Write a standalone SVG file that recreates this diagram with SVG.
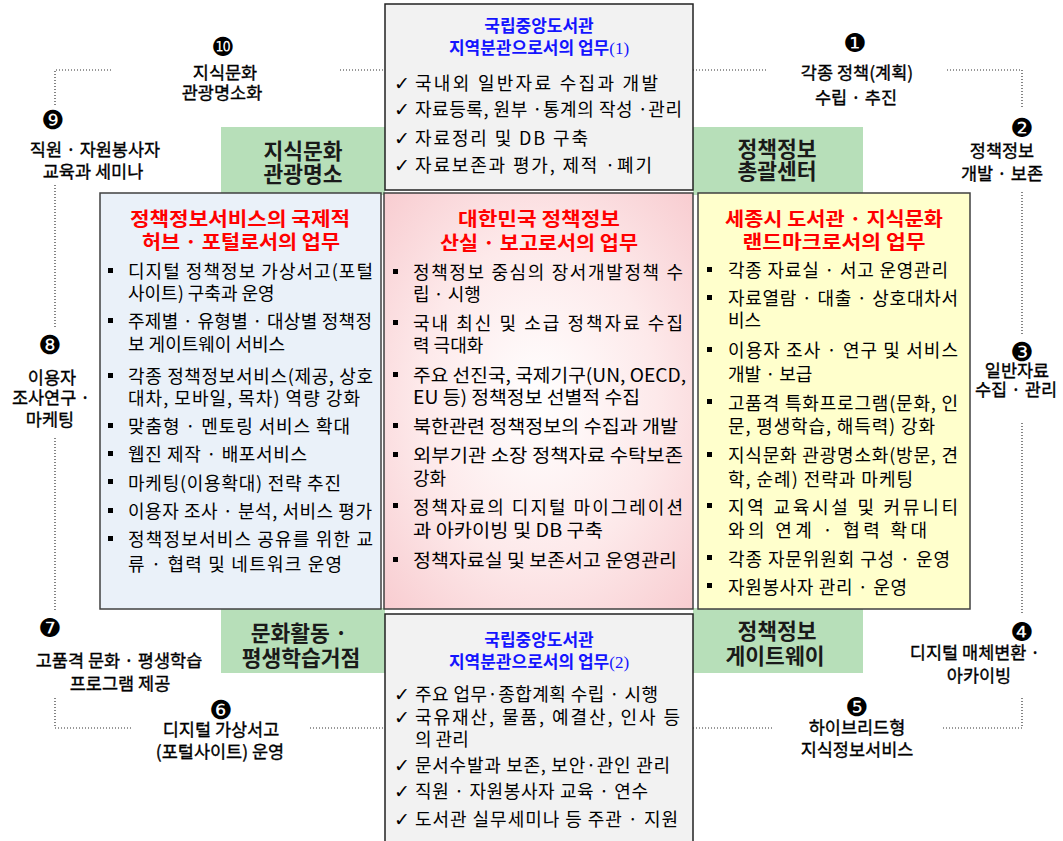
<svg xmlns="http://www.w3.org/2000/svg" width="1063" height="841" viewBox="0 0 1063 841">
<defs>
<radialGradient id="pinkGrad" cx="50%" cy="50%" r="70%">
<stop offset="0%" stop-color="#ffffff"/>
<stop offset="55%" stop-color="#fde9ea"/>
<stop offset="100%" stop-color="#f8cdd1"/>
</radialGradient>
<style>
text{font-family:'Noto Sans CJK KR','Noto Sans CJK SC',sans-serif;fill:#000}
.body{font-size:18px}
.lab{font-size:17.5px;text-anchor:middle;stroke:#000;stroke-width:0.35}
.num{font-family:'DejaVu Sans',sans-serif;font-size:26px;text-anchor:middle;dominant-baseline:central}
.chk{font-family:'DejaVu Sans',sans-serif;font-size:19px}
.red{font-size:19px;font-weight:bold;fill:#ff0000;text-anchor:middle}
.blue{font-size:17px;font-weight:bold;fill:#1414ff;text-anchor:middle}
.ser{font-family:'Liberation Serif',serif;font-weight:normal}
.grn{font-size:21.5px;font-weight:bold;fill:#1a1a1a;text-anchor:middle}
.gbox{fill:#b7dfb9}
.panel{stroke:#404040;stroke-width:1.5}
.gray{fill:#f2f2f2;stroke:#222;stroke-width:1.5}
.bul{fill:#000}
.dot{fill:none;stroke:#333;stroke-width:1.2;stroke-dasharray:1 2}
</style>
</defs>
<rect width="1063" height="841" fill="#ffffff"/>

<g id="connectors">
<path class="dot" d="M55,105 V70 H112 M340,70 H385 M693,70 H767 M947,70 H1022 V107"/>
<path class="dot" d="M55,185 V328 M55,438 V612 M1022,192 V335 M1022,423 V615"/>
<path class="dot" d="M55,698 V728 H133 M310,728 H385 M693,728 H772 M943,728 H1022 V697"/>
</g>

<g id="hub-knowledge-culture">
<rect class="gbox" x="221" y="127" width="164" height="68"/>
<text class="grn" x="303" y="159">지식문화</text>
<text class="grn" x="303" y="182">관광명소</text>
</g>
<g id="hub-policy-center">
<rect class="gbox" x="693" y="127" width="170" height="68"/>
<text class="grn" x="777" y="157">정책정보</text>
<text class="grn" x="777" y="179">총괄센터</text>
</g>
<g id="hub-lifelong-learning">
<rect class="gbox" x="221" y="608" width="164" height="65"/>
<text class="grn" x="299" y="641">문화활동 ·</text>
<text class="grn" x="301" y="666">평생학습거점</text>
</g>
<g id="hub-gateway">
<rect class="gbox" x="693" y="608" width="170" height="65"/>
<text class="grn" x="777" y="639">정책정보</text>
<text class="grn" x="775" y="664">게이트웨이</text>
</g>

<g id="panel-hub-portal">
<rect class="panel" x="100" y="193" width="281" height="416" fill="#eaf1f9"/>
<text class="red" x="240" y="226" textLength="220" lengthAdjust="spacingAndGlyphs">정책정보서비스의 국제적</text>
<text class="red" x="241" y="249" textLength="198" lengthAdjust="spacingAndGlyphs">허브 · 포털로서의 업무</text>
<rect class="bul" x="108" y="268" width="5" height="5"/>
<rect class="bul" x="108" y="318" width="5" height="5"/>
<rect class="bul" x="108" y="373" width="5" height="5"/>
<rect class="bul" x="108" y="423" width="5" height="5"/>
<rect class="bul" x="108" y="451" width="5" height="5"/>
<rect class="bul" x="108" y="479" width="5" height="5"/>
<rect class="bul" x="108" y="508" width="5" height="5"/>
<rect class="bul" x="108" y="536" width="5" height="5"/>
<text class="body" x="128" y="278" textLength="245" lengthAdjust="spacing">디지털 정책정보 가상서고(포털</text>
<text class="body" x="128" y="300">사이트) 구축과 운영</text>
<text class="body" x="128" y="328" textLength="244" lengthAdjust="spacing">주제별 · 유형별 · 대상별 정책정</text>
<text class="body" x="128" y="351">보 게이트웨이 서비스</text>
<text class="body" x="128" y="383" textLength="245" lengthAdjust="spacing">각종 정책정보서비스(제공, 상호</text>
<text class="body" x="128" y="405" textLength="232" lengthAdjust="spacing">대차, 모바일, 목차) 역량 강화</text>
<text class="body" x="128" y="433" textLength="222" lengthAdjust="spacing">맞춤형 · 멘토링 서비스 확대</text>
<text class="body" x="128" y="461" textLength="179" lengthAdjust="spacing">웹진 제작 · 배포서비스</text>
<text class="body" x="128" y="490" textLength="213" lengthAdjust="spacing">마케팅(이용확대) 전략 추진</text>
<text class="body" x="128" y="518" textLength="244" lengthAdjust="spacing">이용자 조사 · 분석, 서비스 평가</text>
<text class="body" x="128" y="546" textLength="245" lengthAdjust="spacing">정책정보서비스 공유를 위한 교</text>
<text class="body" x="128" y="571" textLength="214" lengthAdjust="spacing">류 · 협력 및 네트워크 운영</text>
</g>

<g id="panel-policy-archive">
<rect class="panel" x="384" y="193" width="309" height="416" fill="url(#pinkGrad)"/>
<text class="red" x="539" y="226" textLength="162" lengthAdjust="spacingAndGlyphs">대한민국 정책정보</text>
<text class="red" x="539" y="250" textLength="198" lengthAdjust="spacingAndGlyphs">산실 · 보고로서의 업무</text>
<rect class="bul" x="393" y="269" width="5" height="5"/>
<rect class="bul" x="393" y="320" width="5" height="5"/>
<rect class="bul" x="393" y="372" width="5" height="5"/>
<rect class="bul" x="393" y="423" width="5" height="5"/>
<rect class="bul" x="393" y="452" width="5" height="5"/>
<rect class="bul" x="393" y="503" width="5" height="5"/>
<rect class="bul" x="393" y="557" width="5" height="5"/>
<text class="body" x="413" y="279" textLength="270" lengthAdjust="spacing">정책정보 중심의 장서개발정책 수</text>
<text class="body" x="413" y="301">립 · 시행</text>
<text class="body" x="413" y="330" textLength="270" lengthAdjust="spacing">국내 최신 및 소급 정책자료 수집</text>
<text class="body" x="413" y="352">력 극대화</text>
<text class="body" x="413" y="382" textLength="273" lengthAdjust="spacingAndGlyphs">주요 선진국, 국제기구(UN, OECD,</text>
<text class="body" x="413" y="404" textLength="227" lengthAdjust="spacingAndGlyphs">EU 등) 정책정보 선별적 수집</text>
<text class="body" x="413" y="433" textLength="265" lengthAdjust="spacingAndGlyphs">북한관련 정책정보의 수집과 개발</text>
<text class="body" x="413" y="462" textLength="270" lengthAdjust="spacingAndGlyphs">외부기관 소장 정책자료 수탁보존</text>
<text class="body" x="413" y="485">강화</text>
<text class="body" x="413" y="514" textLength="270" lengthAdjust="spacing">정책자료의 디지털 마이그레이션</text>
<text class="body" x="413" y="537" textLength="190" lengthAdjust="spacingAndGlyphs">과 아카이빙 및 DB 구축</text>
<text class="body" x="413" y="567" textLength="264" lengthAdjust="spacingAndGlyphs">정책자료실 및 보존서고 운영관리</text>
</g>

<g id="panel-sejong-landmark">
<rect class="panel" x="698" y="193" width="272" height="416" fill="#ffffcc"/>
<text class="red" x="834" y="226" textLength="218" lengthAdjust="spacingAndGlyphs">세종시 도서관 · 지식문화</text>
<text class="red" x="834" y="249" textLength="183" lengthAdjust="spacingAndGlyphs">랜드마크로서의 업무</text>
<rect class="bul" x="707" y="267" width="5" height="5"/>
<rect class="bul" x="707" y="295" width="5" height="5"/>
<rect class="bul" x="707" y="347" width="5" height="5"/>
<rect class="bul" x="707" y="399" width="5" height="5"/>
<rect class="bul" x="707" y="452" width="5" height="5"/>
<rect class="bul" x="707" y="503" width="5" height="5"/>
<rect class="bul" x="707" y="555" width="5" height="5"/>
<rect class="bul" x="707" y="583" width="5" height="5"/>
<text class="body" x="728" y="277" textLength="220" lengthAdjust="spacing">각종 자료실 · 서고 운영관리</text>
<text class="body" x="728" y="305" textLength="230" lengthAdjust="spacing">자료열람 · 대출 · 상호대차서</text>
<text class="body" x="728" y="327">비스</text>
<text class="body" x="728" y="357" textLength="230" lengthAdjust="spacing">이용자 조사 · 연구 및 서비스</text>
<text class="body" x="728" y="381">개발 · 보급</text>
<text class="body" x="728" y="410" textLength="230" lengthAdjust="spacing">고품격 특화프로그램(문화, 인</text>
<text class="body" x="728" y="433" textLength="207" lengthAdjust="spacing">문, 평생학습, 해득력) 강화</text>
<text class="body" x="728" y="462" textLength="230" lengthAdjust="spacing">지식문화 관광명소화(방문, 견</text>
<text class="body" x="728" y="486" textLength="185" lengthAdjust="spacing">학, 순례) 전략과 마케팅</text>
<text class="body" x="728" y="514" textLength="230" lengthAdjust="spacing">지역 교육시설 및 커뮤니티</text>
<text class="body" x="728" y="537" textLength="199" lengthAdjust="spacing">와의 연계 · 협력 확대</text>
<text class="body" x="728" y="566" textLength="222" lengthAdjust="spacing">각종 자문위원회 구성 · 운영</text>
<text class="body" x="728" y="594" textLength="179" lengthAdjust="spacing">자원봉사자 관리 · 운영</text>
</g>

<g id="box-branch-duties-1">
<rect class="gray" x="385" y="4" width="308" height="186"/>
<text class="blue" x="539" y="32">국립중앙도서관</text>
<text class="blue" x="539" y="54">지역분관으로서의 업무<tspan class="ser">(1)</tspan></text>
<text class="chk" x="394" y="90">✓</text>
<text class="chk" x="394" y="116">✓</text>
<text class="chk" x="394" y="145">✓</text>
<text class="chk" x="394" y="172">✓</text>
<text class="body" x="415" y="90" textLength="243" lengthAdjust="spacing">국내외 일반자료 수집과 개발</text>
<text class="body" x="415" y="116" textLength="267" lengthAdjust="spacing">자료등록, 원부 ·통계의 작성 ·관리</text>
<text class="body" x="415" y="145" textLength="173" lengthAdjust="spacing">자료정리 및 DB 구축</text>
<text class="body" x="415" y="172" textLength="237" lengthAdjust="spacing">자료보존과 평가, 제적 ·폐기</text>
</g>

<g id="box-branch-duties-2">
<rect class="gray" x="385" y="614" width="308" height="232"/>
<text class="blue" x="539" y="646">국립중앙도서관</text>
<text class="blue" x="539" y="668">지역분관으로서의 업무<tspan class="ser">(2)</tspan></text>
<text class="chk" x="394" y="701">✓</text>
<text class="chk" x="394" y="724">✓</text>
<text class="chk" x="394" y="772">✓</text>
<text class="chk" x="394" y="798">✓</text>
<text class="chk" x="394" y="826">✓</text>
<text class="body" x="415" y="701" textLength="243" lengthAdjust="spacing">주요 업무·종합계획 수립 · 시행</text>
<text class="body" x="415" y="724" textLength="265" lengthAdjust="spacing">국유재산, 물품, 예결산, 인사 등</text>
<text class="body" x="415" y="746">의 관리</text>
<text class="body" x="415" y="772" textLength="255" lengthAdjust="spacing">문서수발과 보존, 보안·관인 관리</text>
<text class="body" x="415" y="798" textLength="233" lengthAdjust="spacing">직원 · 자원봉사자 교육 · 연수</text>
<text class="body" x="415" y="826" textLength="263" lengthAdjust="spacing">도서관 실무세미나 등 주관 · 지원</text>
</g>

<g id="label-1">
<text class="num" x="855" y="43">❶</text>
<text class="lab" x="857" y="79">각종 정책(계획)</text>
<text class="lab" x="856" y="104">수립 · 추진</text>
</g>
<g id="label-2">
<text class="num" x="1022" y="128">❷</text>
<text class="lab" x="1002" y="157">정책정보</text>
<text class="lab" x="1002" y="180">개발 · 보존</text>
</g>
<g id="label-3">
<text class="num" x="1022" y="352">❸</text>
<text class="lab" x="1017" y="377">일반자료</text>
<text class="lab" x="1016" y="396">수집 · 관리</text>
</g>
<g id="label-4">
<text class="num" x="1022" y="632">❹</text>
<text class="lab" x="975" y="659">디지털 매체변환 ·</text>
<text class="lab" x="979" y="682">아카이빙</text>
</g>
<g id="label-5">
<text class="num" x="857" y="707">❺</text>
<text class="lab" x="857" y="734">하이브리드형</text>
<text class="lab" x="857" y="756">지식정보서비스</text>
</g>
<g id="label-6">
<text class="num" x="221" y="710">❻</text>
<text class="lab" x="221" y="736">디지털 가상서고</text>
<text class="lab" x="220" y="758">(포털사이트) 운영</text>
</g>
<g id="label-7">
<text class="num" x="50" y="628">❼</text>
<text class="lab" x="119" y="667">고품격 문화 · 평생학습</text>
<text class="lab" x="120" y="690">프로그램 제공</text>
</g>
<g id="label-8">
<text class="num" x="50" y="345">❽</text>
<text class="lab" x="52" y="384">이용자</text>
<text class="lab" x="51" y="404">조사연구 ·</text>
<text class="lab" x="50" y="426">마케팅</text>
</g>
<g id="label-9">
<text class="num" x="53" y="120">❾</text>
<text class="lab" x="95" y="156">직원 · 자원봉사자</text>
<text class="lab" x="93" y="178">교육과 세미나</text>
</g>
<g id="label-10">
<text class="num" x="223" y="47">❿</text>
<text class="lab" x="225" y="79">지식문화</text>
<text class="lab" x="222" y="99">관광명소화</text>
</g>
</svg>
